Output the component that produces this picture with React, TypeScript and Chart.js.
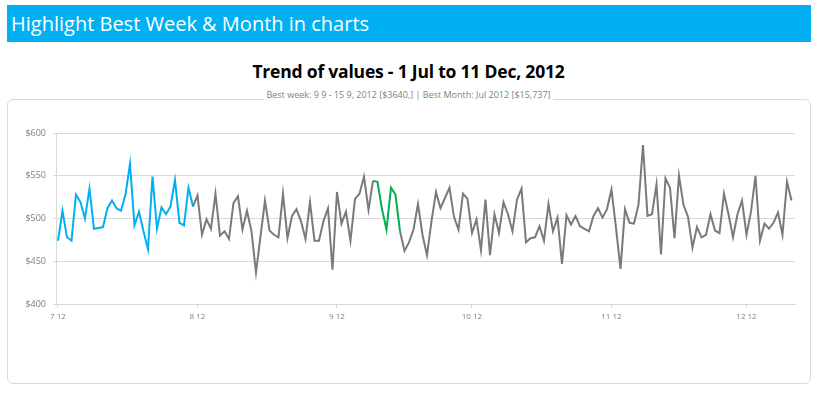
import React, { useEffect, useRef } from "react";
import { Chart, registerables } from "chart.js";

Chart.register(...registerables);

// ---- data ----
const startDate = "2012-07-01";
const julValues = [474, 509, 478, 474, 528, 519, 500, 535, 488, 489, 490, 512, 521, 512, 509, 528, 564, 492, 508, 485, 464, 549, 488, 513, 505, 514, 545, 495, 492, 536, 514];
const augValues = [527, 481, 499, 488, 529, 480, 485, 476, 518, 526, 487, 509, 485, 437, 479, 521, 486, 481, 478, 529, 477, 503, 511, 497, 476, 519, 474, 474, 497, 512, 440];
const sepValues = [531, 494, 508, 474, 523, 529, 549, 510, 544, 543, 511, 487, 536, 528, 485, 462, 472, 487, 517, 481, 457, 497, 531, 512, 524, 536, 502, 487, 529, 523];
const octValues = [483, 499, 463, 522, 457, 505, 483, 519, 505, 485, 522, 535, 472, 477, 478, 491, 474, 517, 485, 501, 447, 504, 493, 503, 491, 488, 485, 503, 512, 501, 511];
const novValues = [534, 489, 441, 511, 495, 494, 516, 586, 503, 505, 540, 458, 547, 536, 477, 550, 516, 502, 466, 490, 478, 481, 505, 486, 483, 529, 505, 478, 505, 521];
const decValues = [481, 508, 550, 474, 494, 488, 495, 507, 481, 543, 521];
const tickLabels = ["7 12", "8 12", "9 12", "10 12", "11 12", "12 12"];
const bestWeekStart = "2012-09-09";
const bestWeekEnd = "2012-09-15";
const bestMonth = "2012-07";

const headerText = "Highlight Best Week & Month in charts";
const titleText = "Trend of values - 1 Jul to 11 Dec, 2012";
const subtitleText = "Best week: 9 9 - 15 9, 2012 [$3640,] | Best Month: Jul 2012 [$15,737]";

const values = [...julValues, ...augValues, ...sepValues, ...octValues, ...novValues, ...decValues];

const BLUE = "#00B0F0";
const GREEN = "#00B050";
const GRAY = "#7a7a7a";
const GRID = "#d9d9d9";
const FONT = "'Open Sans', 'Noto Sans', sans-serif";

function dateAt(i: number) {
  const d = new Date(startDate + "T00:00:00Z");
  d.setUTCDate(d.getUTCDate() + i);
  return d;
}
function iso(d: Date) {
  return d.toISOString().slice(0, 10);
}

export default function App() {
  const ref = useRef<HTMLCanvasElement | null>(null);

  useEffect(() => {
    document.body.style.margin = "0";
    const dates = values.map((_, i) => dateAt(i));
    const isoDates = dates.map(iso);
    const tickIdx: number[] = [];
    dates.forEach((d, i) => {
      if (d.getUTCDate() === 1) tickIdx.push(i);
    });
    const weekFrom = isoDates.indexOf(bestWeekStart);
    const weekTo = isoDates.indexOf(bestWeekEnd);
    const monthIdx = isoDates.map((s, i) => (s.startsWith(bestMonth) ? i : -1)).filter((i) => i >= 0);
    const monthFrom = monthIdx[0];
    const monthTo = monthIdx[monthIdx.length - 1];

    const chart = new Chart(ref.current as HTMLCanvasElement, {
      type: "line",
      data: {
        datasets: [
          {
            data: values.map((v, i) => ({ x: i, y: v })),
            borderColor: GRAY,
            borderWidth: 2,
            pointRadius: 0,
            tension: 0,
            segment: {
              borderColor: (ctx: any) => {
                const a = ctx.p0DataIndex;
                const b = ctx.p1DataIndex;
                if (a >= monthFrom && b <= monthTo) return BLUE;
                if (a >= weekFrom && b <= weekTo) return GREEN;
                return GRAY;
              },
            },
          },
        ],
      },
      options: {
        animation: false,
        responsive: false,
        maintainAspectRatio: false,
        plugins: { legend: { display: false }, tooltip: { enabled: false } },
        layout: { padding: { top: 33, right: 15, left: 0, bottom: 0 } },
        scales: {
          x: {
            type: "linear",
            min: -0.44,
            max: 163.78,
            afterBuildTicks: (s: any) => {
              s.ticks = tickIdx.map((v) => ({ value: v }));
            },
            afterFit: (s: any) => {
              s.height = 79;
            },
            ticks: {
              autoSkip: false,
              maxRotation: 0,
              padding: 4,
              color: "#7f7f7f",
              font: { family: FONT, size: 8 },
              callback: (v: any) => {
                const k = tickIdx.indexOf(Number(v));
                return k >= 0 ? tickLabels[k] : "";
              },
            },
            grid: { drawOnChartArea: false, drawTicks: true, tickLength: 4, color: GRID },
            border: { color: GRID },
          },
          y: {
            min: 400,
            max: 600,
            afterFit: (s: any) => {
              s.width = 48;
            },
            ticks: {
              stepSize: 50,
              padding: 7,
              color: "#7f7f7f",
              font: { family: FONT, size: 9 },
              callback: (v: any) => "$" + v,
            },
            grid: { color: GRID, tickLength: 3 },
            border: { color: GRID },
          },
        },
      },
    } as any);
    return () => chart.destroy();
  }, []);

  return (
    <div style={{ position: "relative", width: 817, height: 396, background: "#fff", overflow: "hidden" }}>
      <div
        style={{
          position: "absolute",
          left: 7,
          top: 5,
          width: 804,
          height: 37,
          background: BLUE,
          color: "#fff",
          fontFamily: FONT,
          fontSize: 20,
          lineHeight: "37px",
          paddingLeft: 4,
          boxSizing: "border-box",
        }}
      >
        {headerText}
      </div>
      <div
        style={{
          position: "absolute",
          left: 0,
          width: 817,
          top: 59,
          textAlign: "center",
          fontFamily: FONT,
          fontWeight: 700,
          fontSize: 17.5,
          color: "#000",
          letterSpacing: -0.2,
        }}
      >
        {titleText}
      </div>
      <div
        style={{
          position: "absolute",
          left: 7,
          top: 99,
          width: 804,
          height: 285,
          border: "1px solid " + GRID,
          borderRadius: 6,
          boxSizing: "border-box",
        }}
      />
      <div
        style={{
          position: "absolute",
          left: 0,
          width: 817,
          top: 88,
          textAlign: "center",
          fontFamily: FONT,
          fontSize: 9,
          color: "#7f7f7f",
        }}
      >
        <span style={{ background: "#fff", padding: "0 2px" }}>{subtitleText}</span>
      </div>
      <canvas ref={ref} width={802} height={283} style={{ position: "absolute", left: 8, top: 100 }} />
    </div>
  );
}
